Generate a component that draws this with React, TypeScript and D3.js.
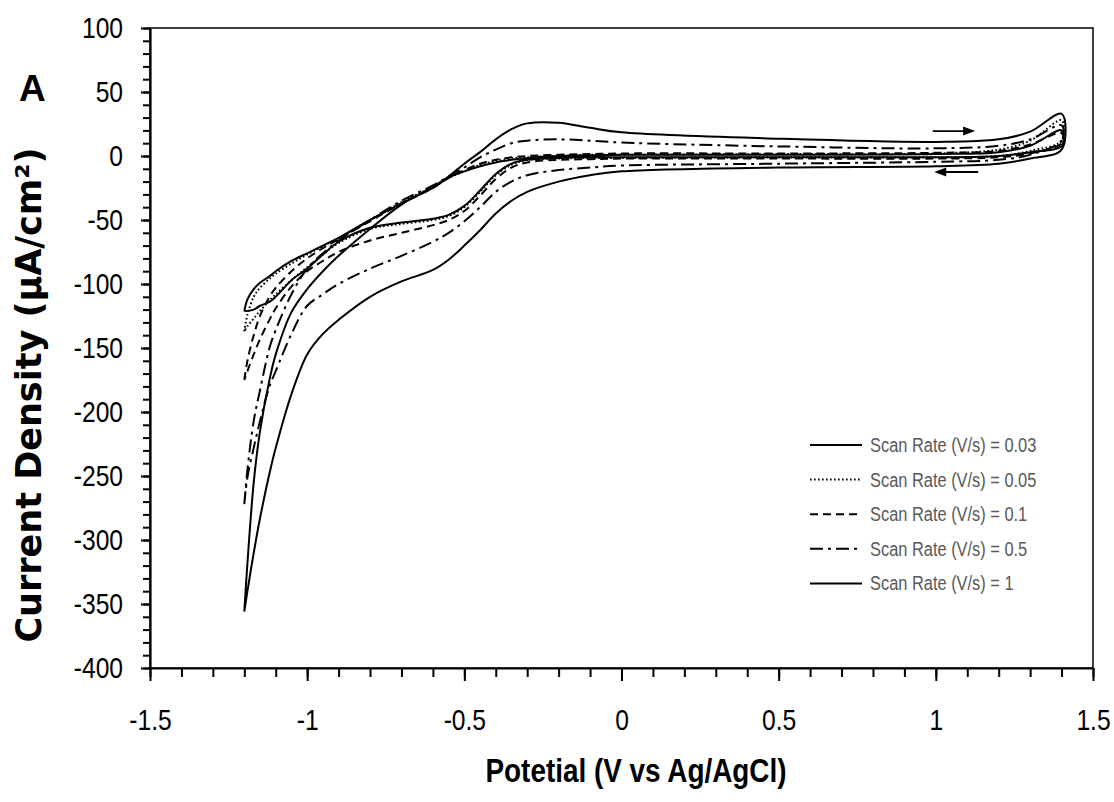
import React, { useEffect, useRef } from 'react';
import * as d3 from 'd3';

// potential grid (V vs Ag/AgCl), shared by every branch
const potential = [-1.2, -1.19, -1.17, -1.15, -1.12, -1.1, -1.05, -1.0, -0.95, -0.9, -0.8, -0.7, -0.6, -0.55,
  -0.5, -0.45, -0.4, -0.35, -0.3, -0.2, -0.1, 0, 0.5, 1.0, 1.2, 1.3, 1.4];

// current density (uA/cm2), forward (upper) and reverse (lower) branches
const fwd003 = [-121, -112, -104, -99, -94, -90, -82, -76, -70, -64, -50, -37, -25, -17, -12, -8, -5, -3, -1.5, 0, 0.5, 1, 1, 1.5, 3, 8, 20];
const rev003 = [-121, -121, -120, -117, -114, -110, -97, -88, -77, -67, -56, -52, -49, -46, -39, -27, -14, -6, -3, -1.5, -1, -1, -1, -1, 0, 3, 8];
const fwd005 = [-137, -124, -110, -103, -96, -92, -84, -77, -70.5, -64, -50, -36, -24, -17, -12, -7, -4, -2, -1, 0, 1, 1, 1.5, 2, 5, 12, 28];
const rev005 = [-137, -133, -127, -121, -113, -108, -97, -87, -77, -68, -57, -53, -50, -47, -40, -28, -15, -7, -3, -2, -1.5, -1.5, -1, -1, 0, 4, 12];
const fwd01 = [-175, -160, -140, -125, -110, -103, -90, -80, -72, -65, -51, -37, -25, -17, -11, -6, -3, -1, 0, 1, 1.5, 2, 2, 2.5, 4, 9, 18];
const rev01 = [-175, -168, -155, -143, -128, -119, -102, -90, -82, -75, -66, -60, -54, -50, -43, -31, -18, -9, -5, -3, -2.5, -2, -2, -2, -1, 2, 10];
const fwd05 = [-272, -245, -207, -183, -150, -136, -108, -88, -76, -66, -50, -35, -23, -16, -9, -1, 5, 10, 12, 13, 12, 10.5, 7.5, 6, 8, 13, 24];
const rev05 = [-272, -251, -228, -207, -180, -168, -139, -117, -108, -100, -88, -78, -67, -60, -51, -40, -28, -20, -15, -11, -9, -7.5, -6, -4.5, -3, 1, 12];
const fwd1 = [-356, -318, -255, -215, -175, -155, -122, -104, -90, -78, -57, -38, -24, -16, -6, 3, 13, 21, 25.5, 26, 22, 18.5, 13.5, 11, 13, 19, 33];
const rev1 = [-356, -340, -310, -283, -248, -228, -186, -155, -139, -128, -110, -98, -89, -81, -70, -58, -45, -35, -28, -20, -15, -12, -9, -8, -6, -2, 5];

const legendLabels = ['Scan Rate (V/s) = 0.03', 'Scan Rate (V/s) = 0.05', 'Scan Rate (V/s) = 0.1',
  'Scan Rate (V/s) = 0.5', 'Scan Rate (V/s) = 1'];

const xTicks = [-1.5, -1, -0.5, 0, 0.5, 1, 1.5];
const yTicks = [-400, -350, -300, -250, -200, -150, -100, -50, 0, 50, 100];

const series = [
  {fwd: fwd003, rev: rev003, dash: null},
  {fwd: fwd005, rev: rev005, dash: '1.6,2.4'},
  {fwd: fwd01, rev: rev01, dash: '8,5'},
  {fwd: fwd05, rev: rev05, dash: '13,5,3,5'},
  {fwd: fwd1, rev: rev1, dash: null},
];

const W = 1114;
const H = 802;
const sans = "'Liberation Sans', Arial, sans-serif";

// squeeze text horizontally so Liberation Sans reads like a narrow face
function narrow(sel: any, k = 0.82) {
  sel.each(function(this: SVGTextElement) {
    const w = this.getComputedTextLength();
    d3.select(this).attr('textLength', w * k).attr('lengthAdjust', 'spacingAndGlyphs');
  });
}

export default function App() {
  const ref = useRef<SVGSVGElement>(null);

  useEffect(() => {
    const svg = d3.select(ref.current);
    svg.selectAll('*').remove();

    const x = d3.scaleLinear().domain([-1.5, 1.5]).range([150, 1093]);
    const y = d3.scaleLinear().domain([-400, 100]).range([668, 28]);

    svg.append('rect').attr('width', W).attr('height', H).attr('fill', 'white');

    // plot frame
    svg.append('rect')
        .attr('x', x(-1.5)).attr('y', y(100))
        .attr('width', x(1.5) - x(-1.5)).attr('height', y(-400) - y(100))
        .attr('fill', 'none').attr('stroke', '#000').attr('stroke-width', 1.5);

    // curves
    const line = d3.line<[number, number]>()
        .x((d) => x(d[0]))
        .y((d) => y(d[1]))
        .curve(d3.curveCatmullRom.alpha(0.5));

    series.forEach((s) => {
      const pts: [number, number][] = potential.map((v, i) => [v, s.fwd[i]] as [number, number]);
      for (let i = potential.length - 1; i >= 0; i--) pts.push([potential[i], s.rev[i]]);
      svg.append('path')
          .attr('d', line(pts))
          .attr('fill', 'none')
          .attr('stroke', '#000')
          .attr('stroke-width', 2)
          .attr('stroke-linejoin', 'round')
          .attr('stroke-dasharray', s.dash);
    });

    // minor ticks
    const yMinor = d3.range(-400, 101, 10);
    svg.append('g').attr('transform', `translate(${x(-1.5)},0)`)
        .call(d3.axisLeft(y).tickValues(yMinor).tickSize(7).tickSizeOuter(0).tickFormat(() => ''))
        .call((g) => g.select('.domain').remove())
        .selectAll('line').attr('stroke-width', 2);
    const xMinor = d3.range(-15, 16).map((d) => d / 10);
    svg.append('g').attr('transform', `translate(0,${y(-400)})`)
        .call(d3.axisBottom(x).tickValues(xMinor).tickSize(9).tickSizeOuter(0).tickFormat(() => ''))
        .call((g) => g.select('.domain').remove())
        .selectAll('line').attr('stroke-width', 2);

    // major axes
    const yAxis = svg.append('g').attr('transform', `translate(${x(-1.5)},0)`)
        .call(d3.axisLeft(y).tickValues(yTicks).tickSize(9).tickSizeOuter(0).tickPadding(18)
            .tickFormat((d) => String(d)));
    yAxis.select('.domain').attr('stroke-width', 2.2);
    yAxis.selectAll('line').attr('stroke-width', 2);
    yAxis.selectAll('text')
        .attr('font-family', sans).attr('font-size', 30).attr('fill', '#000')
        .call(narrow);

    const xAxis = svg.append('g').attr('transform', `translate(0,${y(-400)})`)
        .call(d3.axisBottom(x).tickValues(xTicks).tickSize(13).tickSizeOuter(0).tickPadding(28)
            .tickFormat((d) => String(d)));
    xAxis.select('.domain').attr('stroke-width', 2.2);
    xAxis.selectAll('line').attr('stroke-width', 2);
    xAxis.selectAll('text')
        .attr('font-family', sans).attr('font-size', 30).attr('fill', '#000')
        .call(narrow);

    // titles
    svg.append('text')
        .attr('x', 636).attr('y', 782)
        .attr('text-anchor', 'middle')
        .attr('font-family', sans).attr('font-weight', 'bold').attr('font-size', 34)
        .text('Potetial (V vs Ag/AgCl)')
        .call(narrow);

    svg.append('text')
        .attr('transform', `translate(41,395) rotate(-90)`)
        .attr('text-anchor', 'middle')
        .attr('font-family', "'DejaVu Sans', Verdana, sans-serif").attr('font-weight', 'bold').attr('font-size', 35)
        .text('Current Density (µA/cm²)');

    svg.append('text')
        .attr('x', 19).attr('y', 101)
        .attr('font-family', sans).attr('font-weight', 'bold').attr('font-size', 37)
        .text('A');

    // scan direction arrows
    const arrow = (v0: number, v1: number, i: number) => {
      const x0 = x(v0);
      const x1 = x(v1);
      const yy = y(i);
      const dir = Math.sign(x1 - x0);
      svg.append('line')
          .attr('x1', x0).attr('x2', x1 - dir * 10).attr('y1', yy).attr('y2', yy)
          .attr('stroke', '#000').attr('stroke-width', 1.8);
      svg.append('path')
          .attr('d', `M${x1},${yy}L${x1 - dir * 12},${yy - 4.5}L${x1 - dir * 12},${yy + 4.5}Z`)
          .attr('fill', '#000');
    };
    arrow(0.99, 1.125, 19.5);
    arrow(1.135, 0.995, -12.5);

    // legend
    const lg = svg.append('g').attr('transform', 'translate(810,445)');
    legendLabels.forEach((label, i) => {
      const row = lg.append('g').attr('transform', `translate(0,${i * 34.6})`);
      row.append('line')
          .attr('x1', 0).attr('x2', 52).attr('y1', 0).attr('y2', 0)
          .attr('stroke', '#000').attr('stroke-width', 2)
          .attr('stroke-dasharray', series[i].dash);
      row.append('text')
          .attr('x', 60).attr('y', 7)
          .attr('font-family', sans).attr('font-size', 20).attr('fill', '#595959')
          .text(label)
          .call(narrow);
    });
  }, []);

  return (
    <svg ref={ref} width={W} height={H} style={{position: 'absolute', left: 0, top: 0}} />
  );
}
